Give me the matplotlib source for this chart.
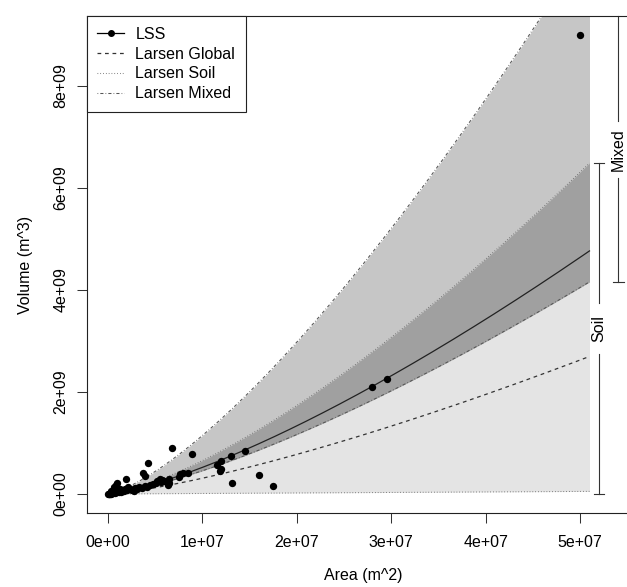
import numpy as np
import matplotlib
matplotlib.use("Agg")
import matplotlib.pyplot as plt
from matplotlib.lines import Line2D

plt.rcParams["font.family"] = ["Liberation Sans", "DejaVu Sans"]
plt.rcParams["font.size"] = 11.5

# landslide inventory (area in m^2, volume in m^3)
area_pts = np.array([
    0.05, 0.1, 0.15, 0.2, 0.3, 0.4, 0.5, 0.6, 0.7, 0.8, 0.9, 1.0, 1.1, 1.2,
    1.3, 1.5, 1.7, 1.8, 2.0, 2.2, 2.4, 2.6, 2.9, 3.1, 3.3, 3.6, 3.9, 4.2,
    4.5, 4.8, 5.1, 5.6, 6.0, 0.7, 0.9, 1.4, 2.8, 0.3, 5.7, 5.5,
    6.8, 8.95, 4.26, 3.77, 4.0, 1.9, 1.0, 5.25, 6.5, 6.4, 6.5, 7.5, 7.7,
    8.0, 8.5, 11.6, 12.0, 12.0, 11.9, 13.0, 14.5, 13.2, 16.0, 17.5,
    28.0, 29.6, 50.0]) * 1e6
vol_pts = np.array([
    0.001, 0.003, 0.004, 0.006, 0.01, 0.008, 0.015, 0.02, 0.03, 0.012, 0.05,
    0.035, 0.08, 0.045, 0.1, 0.06, 0.05, 0.09, 0.07, 0.14, 0.1, 0.08, 0.12,
    0.09, 0.14, 0.12, 0.16, 0.13, 0.17, 0.2, 0.22, 0.23, 0.25, 0.13, 0.17,
    0.03, 0.05, 0.05, 0.27, 0.29,
    0.91, 0.78, 0.61, 0.42, 0.35, 0.29, 0.21, 0.25, 0.29, 0.18, 0.21, 0.34,
    0.39, 0.41, 0.41, 0.57, 0.65, 0.49, 0.45, 0.74, 0.85, 0.22, 0.37, 0.16,
    2.10, 2.25, 9.0]) * 1e9

# power law fits V = alpha * A^gamma
lss_fit = (0.157, 1.36)
global_fit = (0.146, 1.332)
soil_low = (1.0, 1.0)
soil_high = (0.088, 1.41)
mixed_low = (0.137, 1.36)
mixed_high = (0.25, 1.38)

area_min = 1e4
area_max = 5.1e7


def power_law(a, fit):
    return fit[0] * a ** fit[1]


a = np.linspace(area_min, area_max, 400)
s_lo, s_hi = power_law(a, soil_low), power_law(a, soil_high)
m_lo, m_hi = power_law(a, mixed_low), power_law(a, mixed_high)

fig = plt.figure(figsize=(6.27, 5.87), dpi=100)
ax = fig.add_axes([0.1383, 0.1261, 0.8825, 0.8458])

ax.fill_between(a, s_lo, s_hi, color="#e4e4e4", lw=0)
ax.fill_between(a, m_lo, m_hi, color="#c6c6c6", lw=0)
ax.fill_between(a, np.maximum(s_lo, m_lo), np.minimum(s_hi, m_hi),
                color="#a0a0a0", lw=0)

dot = (0, (0.7, 2.0))
dashdot = (0, (0.7, 2.0, 3.0, 2.0))
dash = (0, (3.0, 3.0))

ax.plot(a, s_lo, color="#666666", lw=0.75, ls=dot)
ax.plot(a, s_hi, color="#666666", lw=0.75, ls=dot)
ax.plot(a, m_lo, color="#555555", lw=0.75, ls=dashdot)
ax.plot(a, m_hi, color="#555555", lw=0.75, ls=dashdot)
ax.plot(a, power_law(a, global_fit), color="#333333", lw=0.9, ls=dash)
ax.plot(a, power_law(a, lss_fit), color="#222222", lw=0.9)

ax.scatter(area_pts, vol_pts, s=28, color="black", zorder=5, lw=0)

ax.set_xlim(-2.22e6, 56.35e6)
ax.set_ylim(-0.3725e9, 9.363e9)

# brackets for soil and mixed ranges
def bracket(x, y0, y1, label, gap, cap_top=True):
    mid = (y0 + y1) / 2
    ax.plot([x, x], [y0, mid - gap], color="#333333", lw=0.8, clip_on=False)
    ax.plot([x, x], [mid + gap, y1], color="#333333", lw=0.8, clip_on=False)
    ax.plot([x - 0.55e6, x + 0.55e6], [y0, y0], color="#333333", lw=0.8)
    if cap_top:
        ax.plot([x - 0.55e6, x + 0.55e6], [y1, y1], color="#333333", lw=0.8)
    ax.text(x, mid, label, rotation=90, ha="center", va="center")


bracket(52.0e6, 0.0, power_law(area_max, soil_high), "Soil", 0.5e9)
bracket(54.05e6, power_law(area_max, mixed_low), ax.get_ylim()[1],
        "Mixed", 0.56e9, cap_top=False)

ax.set_xticks([0, 1e7, 2e7, 3e7, 4e7, 5e7])
ax.set_xticklabels([f"{v:.0e}" for v in ax.get_xticks()])
ax.set_yticks([0, 2e9, 4e9, 6e9, 8e9])
ax.set_yticklabels([f"{v:.0e}" for v in ax.get_yticks()], rotation=90,
                   va="center")
ax.tick_params(length=7, width=0.75, color="#333333")
ax.tick_params(axis="x", pad=9)
ax.tick_params(axis="y", pad=6)
ax.set_xlabel("Area (m^2)", labelpad=13)
ax.set_ylabel("Volume (m^3)", labelpad=15)
for sp in ax.spines.values():
    sp.set_linewidth(0.8)
    sp.set_color("#222222")

handles = [
    Line2D([], [], color="black", lw=0.9, marker="o", markersize=4),
    Line2D([], [], color="#333333", lw=0.9, ls=dash),
    Line2D([], [], color="#666666", lw=0.75, ls=dot),
    Line2D([], [], color="#555555", lw=0.75, ls=dashdot),
]
leg = ax.legend(handles, ["LSS", "Larsen Global", "Larsen Soil", "Larsen Mixed"],
                loc="upper left", borderaxespad=0, fancybox=False,
                framealpha=1, edgecolor="#222222", handlelength=1.7,
                handletextpad=0.7, labelspacing=0.3, borderpad=0.65)
leg.get_frame().set_linewidth(0.8)

fig.savefig("out.png", dpi=100)
